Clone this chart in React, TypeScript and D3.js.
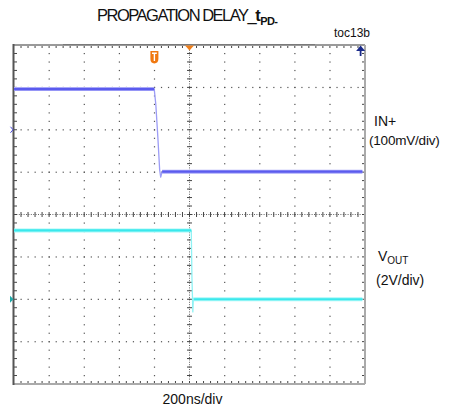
import React from "react";
import * as d3 from "d3";

// ---- data ----
// Time axis: 200 ns/div, 10 divisions, trigger at centre
const timeTicksNs = [-1000, -800, -600, -400, -200, 0, 200, 400, 600, 800, 1000];
// Vertical divisions: 8 divisions
const divTicks = [-4, -3, -2, -1, 0, 1, 2, 3, 4];

// IN+ trace (100 mV/div), values in mV relative to its ground marker
const inTimeNs = [-1000, -600, -201, -192, -180, -170, -164, -156, -140, -100, 300, 985];
const inMv = [96, 96, 96, 60, -20, -95, -112, -99, -99, -99, -99, -99];

// VOUT trace (2 V/div), values in V relative to its ground marker
const outTimeNs = [-1000, -500, 10, 14, 17, 19, 22, 26, 400, 985];
const outV = [3.25, 3.25, 3.25, 1.0, 0.1, -0.6, 0.05, 0, 0, 0];

const inGroundDiv = 2;
const outGroundDiv = -2;
const inMvPerDiv = 100;
const outVPerDiv = 2;

const W = 451;
const H = 408;
const L = 14, R = 365, T = 45, B = 384;

// split a series into its flat (settled) runs
function flatRuns(ts: number[], vs: number[]) {
  const runs: [number, number][][] = [];
  let cur: [number, number][] = [];
  for (let i = 0; i < ts.length; i++) {
    if (cur.length === 0) cur.push([ts[i], vs[i]]);
    else if (Math.abs(vs[i] - cur[cur.length - 1][1]) < 1e-9) cur.push([ts[i], vs[i]]);
    else {
      if (cur.length > 1) runs.push(cur);
      cur = [[ts[i], vs[i]]];
    }
  }
  if (cur.length > 1) runs.push(cur);
  return runs;
}

export default function App() {
  const x = d3.scaleLinear().domain([-1000, 1000]).range([L, R]);
  const y = d3.scaleLinear().domain([-4, 4]).range([B, T]);
  const yIn = (mv: number) => y(inGroundDiv + mv / inMvPerDiv);
  const yOut = (v: number) => y(outGroundDiv + v / outVPerDiv);

  const inLine = d3.line<[number, number]>().x((d) => x(d[0])).y((d) => yIn(d[1]));
  const outLine = d3.line<[number, number]>().x((d) => x(d[0])).y((d) => yOut(d[1]));
  const inPts = inTimeNs.map((t, i) => [t, inMv[i]] as [number, number]);
  const outPts = outTimeNs.map((t, i) => [t, outV[i]] as [number, number]);
  const inFlat = flatRuns(inTimeNs, inMv);
  const outFlat = flatRuns(outTimeNs, outV);

  const xStep = (x(200) - x(0)) / 5;
  const yStep = (y(0) - y(1)) / 5;

  const dots: React.ReactElement[] = [];
  timeTicksNs.forEach((t, ti) => {
    if (ti === 0 || ti === timeTicksNs.length - 1 || t === 0) return;
    for (let k = 1; k < 40; k++) {
      const yy = T + k * yStep;
      dots.push(<rect key={`vx${ti}-${k}`} x={x(t) - 0.5} y={yy - 0.5} width={1.2} height={1.2} fill="#555" />);
    }
  });
  divTicks.forEach((dv, di) => {
    if (di === 0 || di === divTicks.length - 1 || dv === 0) return;
    for (let k = 1; k < 50; k++) {
      const xx = L + k * xStep;
      dots.push(<rect key={`hy${di}-${k}`} x={xx - 0.5} y={y(dv) - 0.5} width={1.2} height={1.2} fill="#555" />);
    }
  });

  const ticks: React.ReactElement[] = [];
  for (let k = 1; k < 50; k++) {
    const xx = L + k * xStep;
    ticks.push(<line key={`ch${k}`} x1={xx} x2={xx} y1={y(0) - 2.5} y2={y(0) + 2.5} stroke="#444" strokeWidth={1} />);
    ticks.push(<line key={`bt${k}`} x1={xx} x2={xx} y1={T} y2={T + 3} stroke="#444" strokeWidth={1} />);
    ticks.push(<line key={`bb${k}`} x1={xx} x2={xx} y1={B} y2={B - 3} stroke="#444" strokeWidth={1} />);
  }
  for (let k = 1; k < 40; k++) {
    const yy = T + k * yStep;
    ticks.push(<line key={`cv${k}`} x1={x(0) - 2.5} x2={x(0) + 2.5} y1={yy} y2={yy} stroke="#444" strokeWidth={1} />);
    ticks.push(<line key={`bl${k}`} x1={L} x2={L + 3} y1={yy} y2={yy} stroke="#444" strokeWidth={1} />);
    ticks.push(<line key={`br${k}`} x1={R} x2={R - 3} y1={yy} y2={yy} stroke="#444" strokeWidth={1} />);
  }

  const font = "'Liberation Sans', Arial, sans-serif";
  const tx = x(-200);
  const ax = x(975);

  return (
    <svg width={W} height={H} style={{ position: "absolute", left: 0, top: 0, background: "#fff" }} fontFamily={font}>
      <rect x={0} y={0} width={W} height={H} fill="#fff" />
      {/* title */}
      <text x={97} y={20.5} fontSize={16.5} fill="#111" letterSpacing={-1.5}>
        PROPAGATION DELAY_
        <tspan fontWeight="bold" letterSpacing={-0.5}>t</tspan>
        <tspan fontWeight="bold" fontSize={11} dy={4} letterSpacing={-0.6}>PD-</tspan>
      </text>
      <text x={370} y={37} fontSize={12} textAnchor="end" fill="#111">toc13b</text>

      {/* grid */}
      {dots}
      <line x1={L} x2={R} y1={y(0)} y2={y(0)} stroke="#666" strokeWidth={1} strokeDasharray="1,1.4" />
      <line x1={x(0)} x2={x(0)} y1={T} y2={B} stroke="#666" strokeWidth={1} strokeDasharray="1,1.4" />
      {ticks}

      {/* frame */}
      <line x1={L} x2={R} y1={T} y2={T} stroke="#9a9a9a" strokeWidth={2} />
      <line x1={63} x2={315} y1={T - 0.5} y2={T - 0.5} stroke="#7a7a7a" strokeWidth={1} />
      <line x1={L} x2={R} y1={B} y2={B} stroke="#aaa" strokeWidth={2} />
      <line x1={R} x2={R} y1={T} y2={B} stroke="#aaa" strokeWidth={2} />
      <line x1={L - 0.5} x2={L - 0.5} y1={T - 1} y2={B + 1} stroke="#555" strokeWidth={2} />

      {/* traces: thin light edges + thicker noisy settled parts */}
      <path d={inLine(inPts) || ""} fill="none" stroke="#9c9cf6" strokeWidth={1.3} strokeLinejoin="round" />
      {inFlat.map((run, i) => (
        <g key={`inf${i}`}>
          <path d={inLine(run) || ""} fill="none" stroke="#aaaaf8" strokeWidth={4} />
          <path d={inLine(run) || ""} fill="none" stroke="#5b5bee" strokeWidth={2.2} />
        </g>
      ))}
      <path d={outLine(outPts) || ""} fill="none" stroke="#8ff2f4" strokeWidth={1.3} strokeLinejoin="round" />
      {outFlat.map((run, i) => (
        <g key={`outf${i}`}>
          <path d={outLine(run) || ""} fill="none" stroke="#a6f8f8" strokeWidth={4} />
          <path d={outLine(run) || ""} fill="none" stroke="#3ae8ec" strokeWidth={2.2} />
        </g>
      ))}

      {/* ground markers */}
      <path d={`M${L - 3.5},${yIn(0) - 3} L${L - 1},${yIn(0)} L${L - 3.5},${yIn(0) + 3}`} fill="none" stroke="#4848d8" strokeWidth={1} />
      <path d={`M${L - 4},${yOut(0) - 3.5} L${L - 0.5},${yOut(0)} L${L - 4},${yOut(0) + 3.5} Z`} fill="#20a8a8" />

      {/* trigger markers */}
      <path d={`M${x(0) - 4.5},${T + 0.5} L${x(0) + 4.5},${T + 0.5} L${x(0)},${T + 5.5} Z`} fill="#f07f1a" />
      <path d={`M${tx - 4},${51} L${tx + 4},${51} L${tx + 4},${59} Q${tx + 4},${63} ${tx},${63.5} Q${tx - 4},${63} ${tx - 4},${59} Z`} fill="#f07810" />
      <path d={`M${tx - 2.4},${53.2} L${tx + 2.4},${53.2} M${tx},${53.2} L${tx},${61}`} stroke="#fff" strokeWidth={1.4} />

      {/* blue arrow top right */}
      <path d={`M${ax},${45.5} L${ax + 4.5},${51} L${ax - 4.5},${51} Z`} fill="#1a2a8a" />
      <line x1={ax} x2={ax} y1={50} y2={56} stroke="#1a2a8a" strokeWidth={1.8} />

      {/* labels */}
      <text x={374} y={126} fontSize={14} fill="#111">IN+</text>
      <text x={369} y={145} fontSize={13.5} fill="#111" letterSpacing={-0.2}>(100mV/div)</text>
      <text x={378} y={260.5} fontSize={14} fill="#111">
        V<tspan fontSize={10} dy={3}>OUT</tspan>
      </text>
      <text x={376} y={285} fontSize={14} fill="#111">(2V/div)</text>
      <text x={192.5} y={404} fontSize={14} textAnchor="middle" fill="#111">200ns/div</text>
    </svg>
  );
}
